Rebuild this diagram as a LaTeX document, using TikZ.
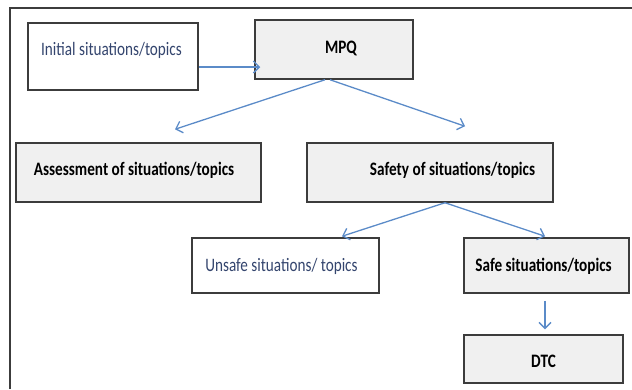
\documentclass[tikz,border=0pt]{standalone}
\usepackage{fontspec}
\setmainfont{Carlito}
\newfontfamily\cf[FakeStretch=0.8]{Carlito}
\usetikzlibrary{arrows.meta,calc}
\definecolor{boxline}{HTML}{3C3C3C}
\definecolor{boxfill}{HTML}{F0F0F0}
\definecolor{arrowblue}{HTML}{5B8BC8}
\definecolor{softtext}{HTML}{34456E}
\tikzset{
  box/.style={draw=boxline, line width=1.5pt, rectangle, inner sep=0pt},
  greybox/.style={box, fill=boxfill},
  whitebox/.style={box, fill=white},
  lbl/.style={font=\cf\fontsize{19}{22}\selectfont\bfseries, text=black, inner sep=0pt},
  lblsoft/.style={font=\cf\fontsize{19}{22}\selectfont, text=softtext, inner sep=0pt},
  flow/.style={draw=arrowblue, line width=1.3pt, -{Straight Barb[length=6pt,width=12pt]}},
  frame/.style={draw=boxline, line width=2pt}
}
\begin{document}
\begin{tikzpicture}[x=1pt,y=-1pt]
\useasboundingbox (0,0) rectangle (632,389);
\coordinate (fb) at (10,389);
\coordinate (ftl) at (10,8);
\coordinate (ftr) at (632,8);
\draw[frame] (fb) -- (ftl) -- (ftr);

\node[whitebox, minimum width=170pt, minimum height=67pt,
  label={[lblsoft, xshift=-1.5pt, yshift=6.5pt]center:Initial situations/topics}] (init) at (113,56.5) {};
\node[greybox, minimum width=158pt, minimum height=59pt,
  label={[lbl, xshift=7pt, yshift=1.5pt]center:MPQ}] (mpq) at (334,49.5) {};
\node[greybox, minimum width=245pt, minimum height=59pt,
  label={[lbl, xshift=-4.5pt, yshift=2.5pt]center:Assessment of situations/topics}] (assess) at (138.5,172.5) {};
\node[greybox, minimum width=246pt, minimum height=59pt,
  label={[lbl, xshift=22.5pt, yshift=2.5pt]center:Safety of situations/topics}] (safety) at (430,172.5) {};
\node[whitebox, minimum width=187pt, minimum height=55pt,
  label={[lblsoft, xshift=-4pt, yshift=-1pt]center:Unsafe situations/ topics}] (unsafe) at (285.5,265.5) {};
\node[greybox, minimum width=165pt, minimum height=55pt,
  label={[lbl, xshift=-3pt, yshift=-1pt]center:Safe situations/topics}] (safe) at (546.5,265.5) {};
\node[greybox, minimum width=159pt, minimum height=48pt,
  label={[lbl, yshift=-2pt]center:DTC}] (dtc) at (543.5,359) {};

\draw[flow] ($(init.east)+(0,10.5)$) -- ($(mpq.west)+(6,17.5)$);
\draw[flow] ($(mpq.south)+(-9,0)$) -- ($(assess.north)+(36.5,-13)$);
\draw[flow] ($(mpq.south)+(-4,0)$) -- ($(safety.north)+(35,-16)$);
\draw[flow] ($(safety.south)+(15,0)$) -- ($(unsafe.north)+(56.5,-1)$);
\draw[flow] ($(safety.south)+(15,0)$) -- ($(safe.north)+(-1.5,-1)$);
\draw[flow] ($(safe.south)+(-1.5,7)$) -- ($(dtc.north)+(1.5,-5)$);
\end{tikzpicture}
\end{document}
